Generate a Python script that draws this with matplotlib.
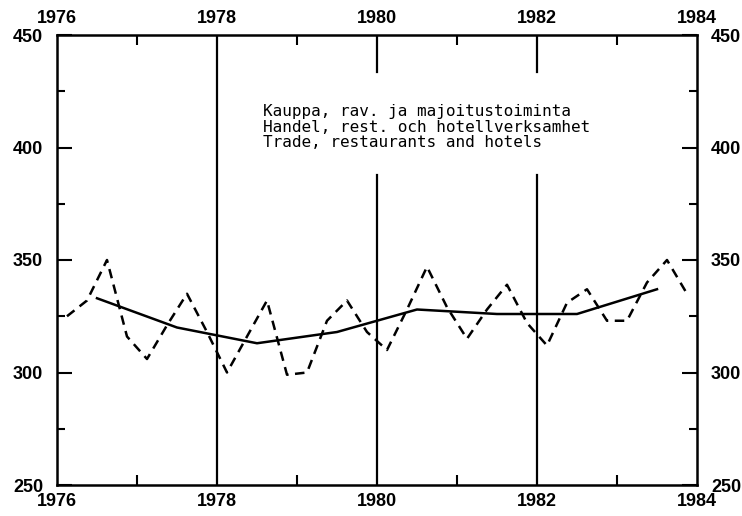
import matplotlib
matplotlib.use("Agg")
import matplotlib.pyplot as plt
import numpy as np

# Quarterly series (dashed) 1976Q1..1983Q4
quarter_start = 1976.125
quarter_values = [325, 332, 350, 316,
                  306, 321, 335, 318,
                  300, 316, 332, 299,
                  300, 323, 332, 318,
                  310, 328, 347, 329,
                  315, 328, 339, 322,
                  312, 331, 337, 323,
                  323, 340, 350, 335]
# Annual trend (solid), plotted at mid-year
years = [1976, 1977, 1978, 1979, 1980, 1981, 1982, 1983]
annual_values = [333, 320, 313, 318, 328, 326, 326, 337]

x_ticks = [1976, 1978, 1980, 1982, 1984]
y_ticks = [250, 300, 350, 400, 450]
label_lines = ["Kauppa, rav. ja majoitustoiminta",
               "Handel, rest. och hotellverksamhet",
               "Trade, restaurants and hotels"]

qx = quarter_start + 0.25 * np.arange(len(quarter_values))
ax_years = np.array(years) + 0.5

fig = plt.figure(figsize=(7.42, 5.16), dpi=100)
ax = fig.add_axes([57/742, 31/516, 640/742, 450/516])

lw = 1.8
ax.plot(qx, quarter_values, color="black", lw=lw, dashes=(3.8, 2.6))
ax.plot(ax_years, annual_values, color="black", lw=lw)

# vertical reference lines; those crossing the caption are broken there
ax.axvline(x_ticks[1], color="black", lw=1.6)
for xv in x_ticks[2:-1]:
    ax.axvline(xv, 0, 0.689, color="black", lw=1.6)
    ax.axvline(xv, 0.918, 1, color="black", lw=1.6)

ax.set_xlim(1976, 1984)
ax.set_ylim(250, 450)

for s in ax.spines.values():
    s.set_linewidth(1.8)

ax.set_xticks(x_ticks)
ax.set_xticks(np.arange(1977, 1984, 2), minor=True)
ax.set_yticks(y_ticks)
ax.set_yticks(np.arange(275, 450, 50), minor=True)
ax.set_xticklabels([str(v) for v in x_ticks])
ax.set_yticklabels([str(v) for v in y_ticks])

ax.tick_params(axis="x", which="major", direction="in", length=0,
               top=True, bottom=True, labeltop=True, labelbottom=True, pad=6)
ax.tick_params(axis="x", which="minor", direction="in", length=7, width=1.5,
               top=True, bottom=True)
ax.tick_params(axis="y", which="major", direction="in", length=11, width=1.5,
               left=True, right=True, labelleft=True, labelright=True, pad=10)
ax.tick_params(axis="y", which="minor", direction="in", length=6, width=1.5,
               left=True, right=True)
for lab in (ax.get_xticklabels() + ax.get_yticklabels()
            + ax.xaxis.get_ticklabels(which="major")
            + [t.label2 for t in ax.xaxis.get_major_ticks()]
            + [t.label2 for t in ax.yaxis.get_major_ticks()]):
    lab.set_fontfamily("Liberation Sans")
    lab.set_fontweight("bold")
    lab.set_fontsize(13)

ys = [0.8296, 0.795, 0.761]
for t, yv in zip(label_lines, ys):
    ax.text(0.322, yv, t, transform=ax.transAxes, family="DejaVu Sans Mono",
            fontsize=11.5, va="center", ha="left", color="black")

fig.savefig("out.png", dpi=100)
